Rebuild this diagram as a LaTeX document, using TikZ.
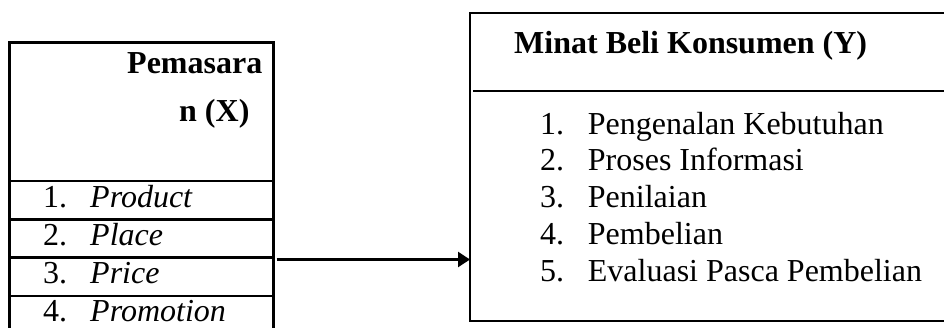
\documentclass[tikz,border=0pt]{standalone}
\usepackage{fontspec}
\setmainfont{Liberation Serif}
\usetikzlibrary{arrows.meta}
\begin{document}
\begin{tikzpicture}[x=1pt,y=-1pt,
  boxframe/.style={draw=black,line width=2.4pt,rectangle,inner sep=0pt,outer sep=0pt},
  rowline/.style={draw=black,line width=2.4pt},
  txt/.style={anchor=base west,inner sep=0pt,font=\fontsize{32}{36}\selectfont},
  btxt/.style={txt,font=\fontsize{32}{36}\selectfont\bfseries},
  conn/.style={draw=black,line width=2.4pt,-{Triangle[length=12pt,width=15pt]}}]
\useasboundingbox (0,0) rectangle (944,327);
\clip (0,0) rectangle (944,327);
% left box
\node[boxframe,anchor=north west,minimum width=264pt,minimum height=292pt] (lbox) at (9.5,42.5) {};
\coordinate (l1w) at (9.5,181); \coordinate (l1e) at (273.5,181);
\coordinate (l2w) at (9.5,219.3); \coordinate (l2e) at (273.5,219.3);
\coordinate (l3w) at (9.5,257.5); \coordinate (l3e) at (273.5,257.5);
\coordinate (l4w) at (9.5,295.7); \coordinate (l4e) at (273.5,295.7);
\draw[rowline] (l1w) -- (l1e);
\draw[rowline] (l2w) -- (l2e);
\draw[rowline] (l3w) -- (l3e);
\draw[rowline] (l4w) -- (l4e);
\node[btxt] (xh1) at (127,73.3) {Pemasara};
\node[btxt] (xh2) at (179,121.7) {n (X)};
\node[txt] (xn1) at (43,207.3) {1.};
\node[txt] (xi1) at (90,207.3) {\itshape Product};
\node[txt] (xn2) at (43,245) {2.};
\node[txt] (xi2) at (90,245) {\itshape Place};
\node[txt] (xn3) at (43,283.3) {3.};
\node[txt] (xi3) at (90,283.3) {\itshape Price};
\node[txt] (xn4) at (43,321.7) {4.};
\node[txt] (xi4) at (90,321.7) {\itshape Promotion};
% right box
\node[boxframe,line width=2pt,anchor=north west,minimum width=500pt,minimum height=307.5pt] (rbox) at (470,13) {};
\coordinate (rsw) at (473,91); \coordinate (rse) at (970,91);
\draw[draw=black,line width=2pt] (rsw) -- (rse);
\node[btxt] (yh) at (514,53.3) {Minat Beli Konsumen (Y)};
\node[txt] (yn1) at (540,134) {1.};
\node[txt] (yi1) at (587.7,134) {Pengenalan Kebutuhan};
\node[txt] (yn2) at (540,170.7) {2.};
\node[txt] (yi2) at (587.7,170.7) {Proses Informasi};
\node[txt] (yn3) at (540,207.5) {3.};
\node[txt] (yi3) at (587.7,207.5) {Penilaian};
\node[txt] (yn4) at (540,244.3) {4.};
\node[txt] (yi4) at (587.7,244.3) {Pembelian};
\node[txt] (yn5) at (540,281.5) {5.};
\node[txt] (yi5) at (587.7,281.5) {Evaluasi Pasca Pembelian};
% connector
\coordinate (ay) at (0,259.5);
\draw[conn,shorten <=3pt] (lbox.east |- ay) -- (rbox.west |- ay);
\end{tikzpicture}
\end{document}
